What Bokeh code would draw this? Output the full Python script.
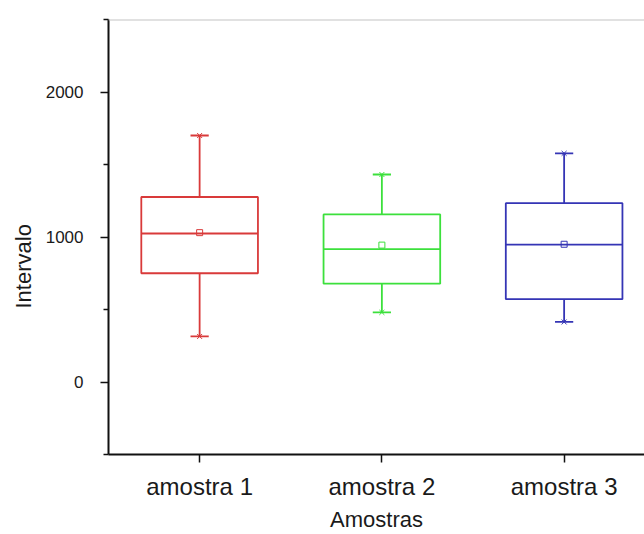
from bokeh.plotting import figure
from bokeh.models import Range1d, FixedTicker, Span, Title
from bokeh.embed import file_html
from bokeh.resources import INLINE

categories = ["amostra 1", "amostra 2", "amostra 3"]
positions = [1, 2, 3]
q1 = [750, 678, 571]
q3 = [1276, 1156, 1233]
median = [1024, 917, 947]
mean = [1030, 944, 950]
whisk_lo = [314, 480, 414]
whisk_hi = [1700, 1431, 1577]
colors = ["#D93A3A", "#3CE03C", "#3535B5"]
y_ticks = [0, 1000, 2000]
y_minor = [-500, 500, 1500, 2500]

FONT = "Liberation Sans"
half_box = 0.32
half_cap = 0.05

p = figure(width=644, height=534, output_backend="svg", toolbar_location=None,
           x_range=Range1d(0.5, 0.5 + 536 / 182.25), y_range=Range1d(-500, 2500),
           min_border_left=108, min_border_right=0, min_border_top=19, min_border_bottom=74)
p.outline_line_color = None
p.grid.visible = False
p.background_fill_color = "white"

left = [x - half_box for x in positions]
right = [x + half_box for x in positions]
capl = [x - half_cap for x in positions]
capr = [x + half_cap for x in positions]

lw = 1.8
p.quad(left=left, right=right, bottom=q1, top=q3, fill_color=None, line_color=colors, line_width=lw)
p.segment(x0=left, x1=right, y0=median, y1=median, line_color=colors, line_width=lw)
p.segment(x0=positions, x1=positions, y0=q3, y1=whisk_hi, line_color=colors, line_width=lw)
p.segment(x0=positions, x1=positions, y0=q1, y1=whisk_lo, line_color=colors, line_width=lw)
p.segment(x0=capl, x1=capr, y0=whisk_hi, y1=whisk_hi, line_color=colors, line_width=lw)
p.segment(x0=capl, x1=capr, y0=whisk_lo, y1=whisk_lo, line_color=colors, line_width=lw)
p.scatter(x=positions, y=whisk_hi, marker="x", size=7, line_color=colors, line_width=1)
p.scatter(x=positions, y=whisk_lo, marker="x", size=7, line_color=colors, line_width=1)
p.scatter(x=positions, y=mean, marker="square", size=6, fill_color=None, line_color=colors, line_width=1)

p.add_layout(Span(location=2500, dimension="width", line_color="#c4c4c4", line_width=2))

# axes
p.xaxis.ticker = FixedTicker(ticks=positions)
p.xaxis.major_label_overrides = {x: c for x, c in zip(positions, categories)}
p.xaxis.minor_tick_line_color = None
p.yaxis.ticker = FixedTicker(ticks=y_ticks, minor_ticks=y_minor)

for ax in (p.xaxis, p.yaxis):
    ax.axis_line_color = "#111111"
    ax.axis_line_width = 2
    ax.major_tick_line_color = "#111111"
    ax.major_tick_line_width = 1.5
    ax.major_tick_in = 0
    ax.major_tick_out = 8
    ax.major_label_text_font = FONT
    ax.major_label_text_color = "#1a1a1a"

p.yaxis.minor_tick_in = 0
p.yaxis.minor_tick_out = 5
p.yaxis.minor_tick_line_color = "#111111"
p.yaxis.minor_tick_line_width = 1.5
p.yaxis.major_label_text_font_size = "17px"
p.yaxis.major_label_standoff = 17
p.xaxis.major_label_text_font_size = "24px"
p.xaxis.major_label_standoff = 10

p.xaxis.axis_label = "Amostras"
p.xaxis.axis_label_text_font = FONT
p.xaxis.axis_label_text_font_size = "22px"
p.xaxis.axis_label_text_font_style = "normal"
p.xaxis.axis_label_text_color = "#1a1a1a"
p.xaxis.axis_label_standoff = 4

p.add_layout(Title(text="Intervalo", align="left", offset=146, text_font=FONT,
                   text_font_size="22px", text_font_style="normal", text_color="#1a1a1a",
                   standoff=14), "left")

open("out.html", "w").write(file_html(p, INLINE))
